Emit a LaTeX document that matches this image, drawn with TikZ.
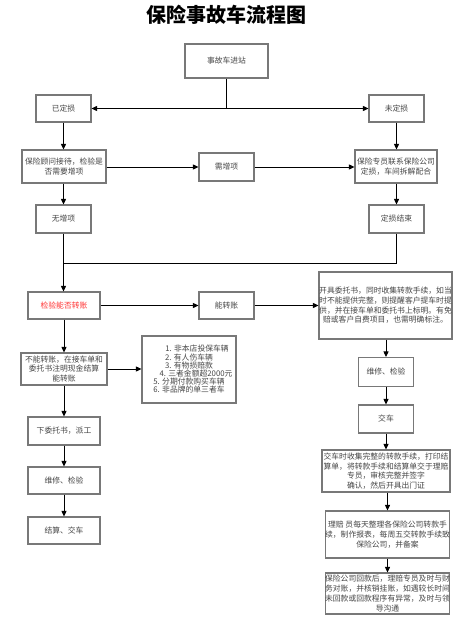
\documentclass[tikz,border=0pt]{standalone}
\usepackage{fontspec}
\setmainfont{Noto Sans CJK SC}
\usetikzlibrary{arrows.meta}
\definecolor{boxline}{RGB}{120,120,120}
\definecolor{txt}{RGB}{70,70,70}
\definecolor{redtxt}{RGB}{255,51,51}
\tikzset{
  box/.style={draw=boxline, line width=1.1pt, fill=white, inner sep=0pt, align=center,
    text=txt, font=\fontsize{7.8}{9.7}\selectfont},
  arr/.style={draw=black, line width=0.9pt, -{Triangle[length=5.5pt,width=5pt]}},
  ln/.style={draw=black, line width=0.9pt},
}
\begin{document}
\begin{tikzpicture}[x=1pt,y=-1pt]
\useasboundingbox (0,0) rectangle (453,618);
\node[font=\fontsize{20}{23}\bfseries, text=black] (title) at (226.5,15) {保险事故车流程图};
% top
\node[box, minimum width=83, minimum height=34] (n0) at (226.5,61) {事故车进站};
\node[box, minimum width=55, minimum height=27] (n1) at (63.5,108.5) {已定损};
\node[box, minimum width=55, minimum height=27] (n2) at (396.5,108.5) {未定损};
\node[box, minimum width=84, minimum height=33] (n3) at (64,166.5) {保险顾问接待，检验是\\否需要增项};
\node[box, minimum width=55, minimum height=28] (n4) at (226.5,167) {需增项};
\node[box, minimum width=82, minimum height=33] (n5) at (396,166.5) {保险专员联系保险公司\\定损，车间拆解配合};
\node[box, minimum width=55, minimum height=28] (n6) at (63.5,219) {无增项};
\node[box, minimum width=55, minimum height=28] (n7) at (396.5,219) {定损结束};
% middle
\node[box, minimum width=72, minimum height=27, text=redtxt] (n8) at (64,305.5) {检验能否转账};
\node[box, minimum width=55, minimum height=27] (n9) at (226.5,305.5) {能转账};
\node[box, minimum width=133, minimum height=67] (n10) at (385.5,305.5) {开具委托书，同时收集转款手续，如当\\时不能提供完整，则提醒客户提车时提\\供，并在接车单和委托书上标明。有免\\赔或客户自费项目，也需明确标注。};
\node[box, minimum width=86, minimum height=32] (n11) at (64,369) {不能转账，在接车单和\\委托书注明现金结算\\能转账};
\node[box, minimum width=94, minimum height=67, font=\fontsize{7.8}{8.2}\selectfont] (n12) at (189,369.5) {\hspace{16pt}1. 非本店投保车辆\\2. 有人伤车辆\\3. 有物损赔款\\\hspace{14pt}4. 三者金额超2000元\\5. 分期付款购买车辆\\6. 非品牌的单三者车};
% left column
\node[box, minimum width=72, minimum height=28] (n13) at (64,431) {下委托书，派工};
\node[box, minimum width=72, minimum height=27] (n14) at (64,480.5) {维修、检验};
\node[box, minimum width=72, minimum height=27] (n15) at (64,530.5) {结算、交车};
% right column
\node[box, minimum width=55, minimum height=29] (n16) at (386,372) {维修、检验};
\node[box, minimum width=55, minimum height=28] (n17) at (386,419) {交车};
\node[box, minimum width=128, minimum height=42] (n18) at (386,471) {交车时收集完整的转款手续，打印结\\算单，将转款手续和结算单交于理赔\\专员，审核完整并签字\\确认，然后开具出门证};
\node[box, minimum width=123, minimum height=47] (n19) at (387.5,534.5) {理赔 员每天整理各保险公司转款手\\续，制作报表，每周五交转款手续致\\保险公司，并备案};
\node[box, minimum width=123, minimum height=41] (n20) at (387.5,593.5) {保险公司回款后，理赔专员及时与财\\务对账，并核销挂账，如遇较长时间\\未回款或回款程序有异常，及时与领\\导沟通};
% connectors
\coordinate (j1) at (n0.south |- n1.east);
\draw[ln] (n0.south) -- (j1);
\draw[arr] (j1) -- (n1.east);
\draw[arr] (j1) -- (n2.west);
\draw[arr] (n1.south) -- (n1.south |- n3.north);
\draw[arr] (n2.south) -- (n2.south |- n5.north);
\draw[arr] (n3.east |- n4.west) -- (n4.west);
\draw[arr] (n4.east) -- (n5.west |- n4.east);
\draw[arr] (n3.south -| n6.south) -- (n6.north);
\draw[arr] (n5.south -| n7.south) -- (n7.north);
\coordinate (j2) at (n7.south |- 0,263);
\coordinate (j3) at (n6.south |- 0,263);
\draw[arr] (n6.south) -- (n8.north -| n6.south);
\draw[ln] (n7.south) -- (j2) -- (j3);
\draw[arr] (n8.east) -- (n9.west);
\draw[arr] (n9.east) -- (n10.west);
\draw[arr] (n8.south) -- (n11.north);
\draw[arr] (n11.east) -- (n12.west |- n11.east);
\draw[arr] (n11.south) -- (n13.north);
\draw[arr] (n13.south) -- (n14.north);
\draw[arr] (n14.south) -- (n15.north);
\draw[arr] (n10.south -| n16.north) -- (n16.north);
\draw[arr] (n16.south) -- (n17.north);
\draw[arr] (n17.south) -- (n18.north -| n17.south);
\draw[arr] (n18.south -| n19.north) -- (n19.north);
\draw[arr] (n19.south) -- (n20.north);
\end{tikzpicture}
\end{document}
